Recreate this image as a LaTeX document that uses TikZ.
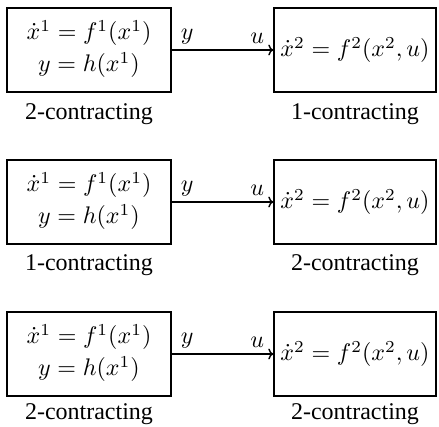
\documentclass[tikz,border=0pt]{standalone}
\usepackage[no-math]{fontspec}
\setmainfont{Liberation Serif}
\usetikzlibrary{arrows.meta}
\newcommand{\bigtxt}[1]{\scalebox{2.4}{#1}}
\newcommand{\twoline}[2]{\raisebox{-3pt}{\bigtxt{\begin{tabular}{@{}c@{}}#1\\[1.3pt]#2\end{tabular}}}}
\begin{document}
\begin{tikzpicture}[x=1pt,y=1pt,
  sysbox/.style={draw, line width=1.4pt, inner sep=0pt, align=center},
  lbox/.style={sysbox, minimum width=164pt, minimum height=84pt},
  rbox/.style={sysbox, minimum width=162pt, minimum height=84pt},
  caption/.style={inner sep=0pt},
  sig/.style={inner sep=0pt},
  link/.style={-{To[length=5pt,width=11pt]}, line width=1.4pt}]
\useasboundingbox (0,0) rectangle (439,426);

% row 1
\node[lbox] (a1) at (89,376) {\twoline{$\dot x^1 = f^1(x^1)$}{$y = h(x^1)$}};
\node[rbox] (b1) at (355,376) {\bigtxt{$\dot x^2 = f^2(x^2,u)$}};
\node[caption] (ca1) at (89,312) {\bigtxt{2-contracting}};
\node[caption] (cb1) at (355,312) {\bigtxt{1-contracting}};
\draw[link] (a1.east) -- (b1.west);
\node[sig, anchor=south west] (y1) at ([xshift=9pt,yshift=6pt]a1.east) {\bigtxt{$y$}};
\node[sig, anchor=south east] (u1) at ([xshift=-9pt,yshift=6pt]b1.west) {\bigtxt{$u$}};

% row 2
\node[lbox] (a2) at (89,224) {\twoline{$\dot x^1 = f^1(x^1)$}{$y = h(x^1)$}};
\node[rbox] (b2) at (355,224) {\bigtxt{$\dot x^2 = f^2(x^2,u)$}};
\node[caption] (ca2) at (89,161) {\bigtxt{1-contracting}};
\node[caption] (cb2) at (355,161) {\bigtxt{2-contracting}};
\draw[link] (a2.east) -- (b2.west);
\node[sig, anchor=south west] (y2) at ([xshift=9pt,yshift=6pt]a2.east) {\bigtxt{$y$}};
\node[sig, anchor=south east] (u2) at ([xshift=-9pt,yshift=6pt]b2.west) {\bigtxt{$u$}};

% row 3
\node[lbox] (a3) at (89,72) {\twoline{$\dot x^1 = f^1(x^1)$}{$y = h(x^1)$}};
\node[rbox] (b3) at (355,72) {\bigtxt{$\dot x^2 = f^2(x^2,u)$}};
\node[caption] (ca3) at (89,12) {\bigtxt{2-contracting}};
\node[caption] (cb3) at (355,12) {\bigtxt{2-contracting}};
\draw[link] (a3.east) -- (b3.west);
\node[sig, anchor=south west] (y3) at ([xshift=9pt,yshift=6pt]a3.east) {\bigtxt{$y$}};
\node[sig, anchor=south east] (u3) at ([xshift=-9pt,yshift=6pt]b3.west) {\bigtxt{$u$}};
\end{tikzpicture}
\end{document}
